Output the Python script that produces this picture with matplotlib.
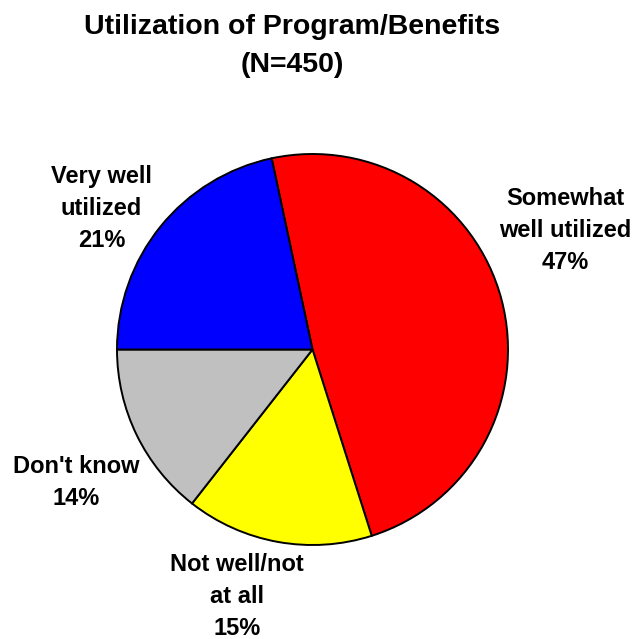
import matplotlib
matplotlib.use("Agg")
import matplotlib.pyplot as plt

# Survey shares (labels are the rounded percentages shown on the chart)
categories = ["Somewhat\nwell utilized", "Not well/not\nat all", "Don't know", "Very well\nutilized"]
shares = [47, 15, 14, 21]
colors = ["#FF0000", "#FFFF00", "#C0C0C0", "#0000FF"]

# label anchor points (top centre of each label, pie data units, radius = 1)
label_pos = [(1.294, 0.831), (-0.385, -1.042), (-1.208, -0.541), (-1.080, 0.945)]

plt.rcParams["font.family"] = ["Liberation Sans", "DejaVu Sans"]
plt.rcParams["font.weight"] = "bold"

fig = plt.figure(figsize=(6.39, 6.39), dpi=100)
ax = fig.add_axes([117 / 639, 94 / 639, 391 / 639, 391 / 639])

start = 180 - 360 * shares[-1] / sum(shares)
ax.pie(shares, colors=colors, startangle=start, counterclock=False, radius=1,
       wedgeprops=dict(edgecolor="black", linewidth=1.4))
ax.set_xlim(-1, 1)
ax.set_ylim(-1, 1)
ax.set_aspect("equal")
ax.axis("off")

for cat, val, (x, y) in zip(categories, shares, label_pos):
    ax.text(x, y, f"{cat}\n{val}%", ha="center", va="top", fontsize=17,
            fontweight="bold", linespacing=1.5, clip_on=False)

fig.text(292 / 639, 1 - 14.5 / 639, "Utilization of Program/Benefits\n(N=450)",
         ha="center", va="top", fontsize=20.5, fontweight="bold", linespacing=1.56)

fig.savefig("out.png", dpi=100)
